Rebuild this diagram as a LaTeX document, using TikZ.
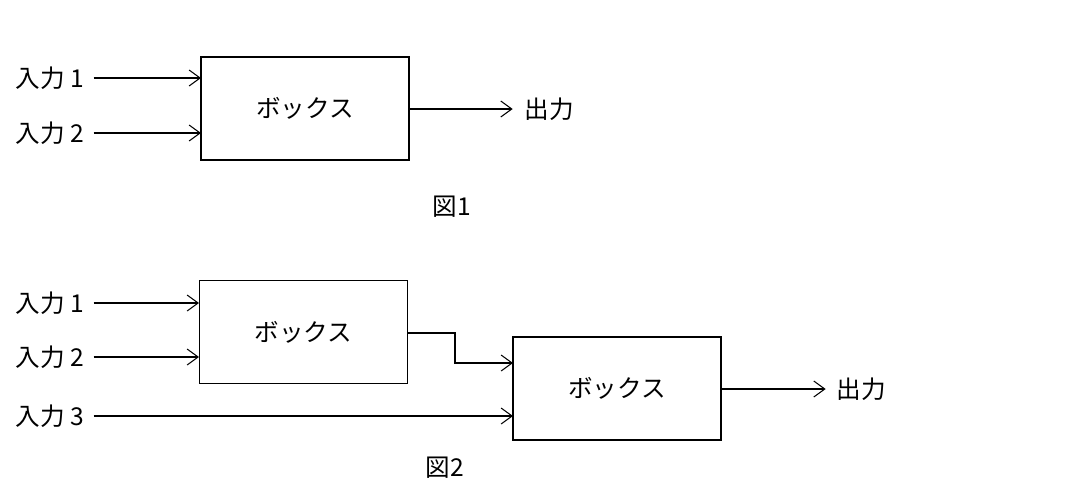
\documentclass[tikz,border=0pt]{standalone}
\usepackage{fontspec}
\setmainfont{Noto Sans CJK JP}
\usetikzlibrary{arrows.meta}
\tikzstyle{box}=[shape=rectangle,
                 draw=black,
                 thick,
                 minimum width=4.16cm,
                 minimum height=2.06cm,
                 font=\fontsize{14}{16}\selectfont]
\tikzstyle{lbl}=[font=\fontsize{14}{16}\selectfont, inner sep=0pt]

\begin{document}
\begin{tikzpicture}[>={Straight Barb[length=2.2mm,width=3.2mm]},semithick,x=0.02cm,y=-0.02cm]
\useasboundingbox (0,0) rectangle (1086,498);

% figure 1
\node[box] (b1) at (305,108.5) {ボックス};
\node[lbl] (i11) at (50,78)  {入力 1};
\node[lbl] (i12) at (50,133) {入力 2};
\node[lbl, anchor=west] (o1) at (524,109) {出力};
\coordinate (b1a) at (201,78);
\coordinate (b1b) at (201,133);
\draw[->] (i11.east) ++(9,0) -- (b1a);
\draw[->] (i12.east) ++(9,0) -- (b1b);
\draw[->] (b1.east |- 0,109) -- ++(103,0);
\node[lbl] (f1) at (452,207) {図1};

% figure 2
\node[box] (b2) at (303.5,332) {ボックス};
\node[box] (b3) at (617,388.5) {ボックス};
\node[lbl] (i21) at (50,303) {入力 1};
\node[lbl] (i22) at (50,357) {入力 2};
\node[lbl] (i23) at (50,416) {入力 3};
\node[lbl, anchor=west] (o2) at (836,389) {出力};
\coordinate (b2a) at (199,303);
\coordinate (b2b) at (199,357);
\coordinate (b3a) at (513,363);
\coordinate (b3b) at (513,416);
\draw[->] (i21.east) ++(9,0) -- (b2a);
\draw[->] (i22.east) ++(9,0) -- (b2b);
\draw[->] (i23.east) ++(9,0) -- (b3b);
\draw[->] (b2.east |- 0,333) -| (455,363) -- (b3a);
\draw[->] (b3.east |- 0,389) -- ++(104,0);
\node[lbl] (f2) at (445,468) {図2};

\end{tikzpicture}
\end{document}
